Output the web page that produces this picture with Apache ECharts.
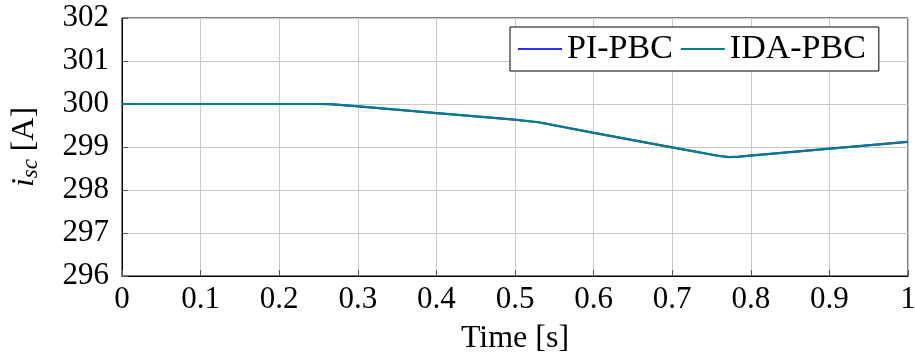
<!DOCTYPE html>
<html>
<head>
<meta charset="utf-8">
<script src="https://cdn.jsdelivr.net/npm/echarts@6/dist/echarts.min.js"></script>
<style>
  html, body { margin: 0; padding: 0; background: #fff; }
  #chart { width: 915px; height: 360px; }
</style>
</head>
<body>
<div id="chart"></div>
<script>
// Short-circuit current i_sc over time for the two controllers
const timeS = [0, 0.1, 0.2, 0.25, 0.265, 0.28, 0.3, 0.4, 0.5, 0.515, 0.53, 0.6, 0.7, 0.76, 0.772, 0.785, 0.8, 0.9, 1.0];
const piPbc = [300, 300, 300, 300, 299.995, 299.975, 299.945, 299.79, 299.635, 299.605, 299.575, 299.33, 298.99, 298.79, 298.765, 298.775, 298.80, 298.96, 299.12];
const idaPbc = [300, 300, 300, 300, 299.995, 299.975, 299.945, 299.79, 299.635, 299.605, 299.575, 299.33, 298.99, 298.79, 298.765, 298.775, 298.80, 298.96, 299.12];
const xTicks = [0, 0.1, 0.2, 0.3, 0.4, 0.5, 0.6, 0.7, 0.8, 0.9, 1];
const yTicks = [296, 297, 298, 299, 300, 301, 302];

const FONT = 'Liberation Serif';
const FS = 31;

const pairs = (xs, ys) => xs.map((x, i) => [x, ys[i]]);

const chart = echarts.init(document.getElementById('chart'), null, { renderer: 'canvas' });
chart.setOption({
  animation: false,
  backgroundColor: '#fff',
  textStyle: { fontFamily: FONT, color: '#000' },
  grid: {
    left: 122, right: 7, top: 18, bottom: 84,
    outerBoundsMode: 'none',
    containLabel: false,
    show: true, borderColor: '#000', borderWidth: 1
  },
  legend: {
    left: 510, top: 27,
    padding: [5, 13, 5, 8],
    borderColor: '#000', borderWidth: 1,
    backgroundColor: '#fff',
    icon: 'rect',
    itemWidth: 44, itemHeight: 2,
    itemGap: 8,
    textStyle: { fontFamily: FONT, fontSize: 34, color: '#000', padding: [0, 0, 0, 0] },
    data: ['PI-PBC', 'IDA-PBC']
  },
  xAxis: {
    type: 'value',
    min: 0, max: 1, interval: 0.1,
    name: 'Time [s]',
    nameLocation: 'middle',
    nameGap: 47,
    nameTextStyle: { fontFamily: FONT, fontSize: 32, color: '#000' },
    axisLine: { show: true, lineStyle: { color: '#000', width: 1 } },
    axisTick: { show: true, inside: true, length: 6, lineStyle: { color: '#555' } },
    axisLabel: {
      fontFamily: FONT, fontSize: FS, color: '#000', margin: 8,
      formatter: v => {
        const t = xTicks.find(x => Math.abs(x - v) < 1e-9);
        if (t === undefined) return '';
        return (t === 0 || t === 1) ? String(t) : t.toFixed(1);
      }
    },
    splitLine: { show: true, lineStyle: { color: '#c8c8c8', width: 1 } }
  },
  yAxis: {
    type: 'value',
    min: yTicks[0], max: yTicks[yTicks.length - 1], interval: 1,
    name: '{it|i}{sub|sc} {n|[A]}',
    nameLocation: 'middle',
    nameGap: 80,
    nameRotate: 90,
    nameTextStyle: {
      fontFamily: FONT, fontSize: FS, color: '#000',
      rich: {
        it: { fontFamily: FONT, fontStyle: 'italic', fontSize: 32, color: '#000' },
        sub: { fontFamily: FONT, fontStyle: 'italic', fontSize: 23, color: '#000', verticalAlign: 'bottom', padding: [12, 0, 0, 0] },
        n: { fontFamily: FONT, fontSize: 32, color: '#000' }
      }
    },
    axisLine: { show: true, lineStyle: { color: '#000', width: 1 } },
    axisTick: { show: true, inside: true, length: 6, lineStyle: { color: '#555' } },
    axisLabel: { fontFamily: FONT, fontSize: FS, color: '#000', margin: 13 },
    splitLine: { show: true, lineStyle: { color: '#c8c8c8', width: 1 } }
  },
  series: [
    {
      name: 'PI-PBC', type: 'line', showSymbol: false, symbol: 'none',
      data: pairs(timeS, piPbc),
      lineStyle: { color: '#3030ff', width: 2.2 },
      itemStyle: { color: '#3030ff' },
      z: 2
    },
    {
      name: 'IDA-PBC', type: 'line', showSymbol: false, symbol: 'none',
      data: pairs(timeS, idaPbc),
      lineStyle: { color: '#008080', width: 2 },
      itemStyle: { color: '#008080' },
      z: 3
    }
  ]
});
</script>
</body>
</html>
